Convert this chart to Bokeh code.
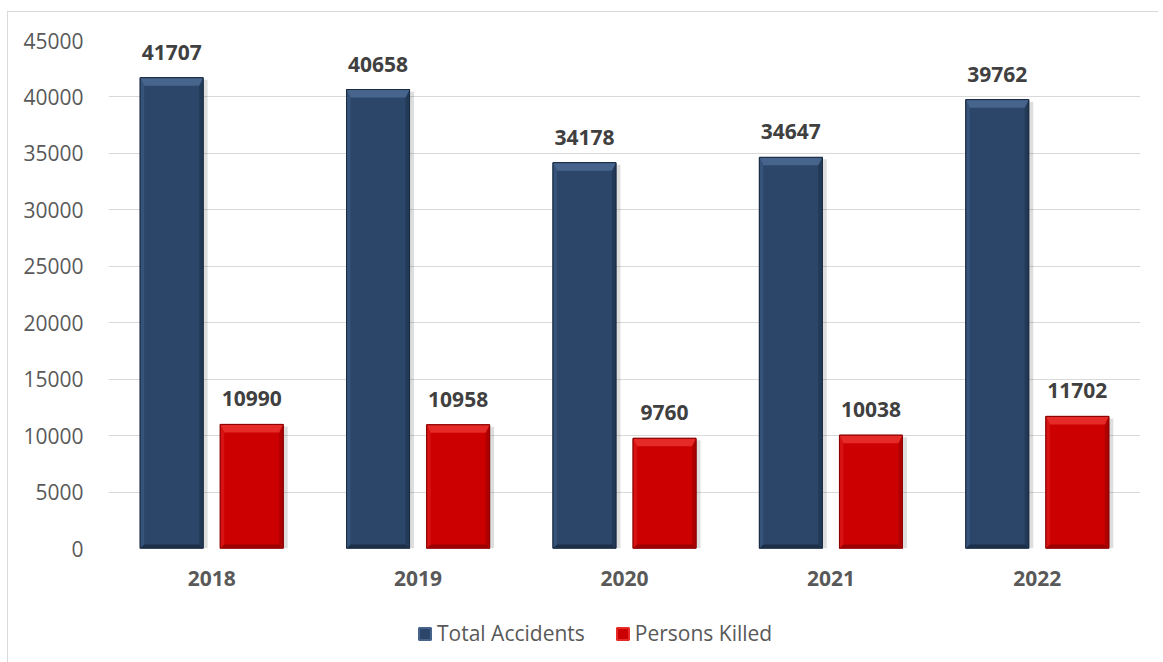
from bokeh.plotting import figure
from bokeh.layouts import column
from bokeh.models import (ColumnDataSource, Range1d, FixedTicker, LabelSet,
                          Legend, LegendItem, SingleIntervalTicker)
from bokeh.core.properties import value
from bokeh.embed import file_html
from bokeh.resources import INLINE

# ---- data ----
years = ["2018", "2019", "2020", "2021", "2022"]
total_accidents = [41707, 40658, 34178, 34647, 39762]
persons_killed = [10990, 10958, 9760, 10038, 11702]
series_names = ["Total Accidents", "Persons Killed"]

# ---- layout / style ----
W, H = 1150, 600
LEG_H = 50
ML, MR, MT, MB = 100, 18, 28, 64
frame_w = W - ML - MR
frame_h = H - MT - MB
YMAX = 45000
px_x = 5.0 / frame_w          # x-units per pixel
px_y = YMAX / frame_h         # y-units per pixel
OFFSET = 0.194
BAR_W = 0.305
FONT = value("Open Sans")
FS = "21px"

styles = {
    series_names[0]: dict(main="#2c4669", top="#46648c", left="#36547a",
                          right="#233a57", bottom="#1c2f48", line="#1a2b42"),
    series_names[1]: dict(main="#cc0000", top="#e52a28", left="#d61212",
                          right="#ae0000", bottom="#9c0000", line="#8a0000"),
}

p = figure(width=W, height=H, output_backend="svg", toolbar_location=None,
           x_range=Range1d(-0.5, 4.5), y_range=Range1d(0, YMAX),
           min_border_left=ML, min_border_right=MR, min_border_top=MT,
           min_border_bottom=MB)
p.outline_line_color = None
p.background_fill_color = "white"
p.border_fill_color = "white"

xs_idx = list(range(len(years)))
for si, (name, vals) in enumerate(zip(series_names, [total_accidents, persons_killed])):
    st = styles[name]
    off = -OFFSET if si == 0 else OFFSET
    cx = [i + off for i in xs_idx]
    # soft shadow
    p.vbar(x=[c + 3 * px_x for c in cx], top=[v - 2 * px_y for v in vals], bottom=0,
           width=BAR_W + 3 * px_x, fill_color="#000000", fill_alpha=0.13, line_color=None)
    src = ColumnDataSource(dict(x=cx, top=vals))
    p.vbar(x="x", top="top", bottom=0, width=BAR_W, source=src,
           fill_color=st["main"], line_color=st["line"], line_width=1)
    # bevel patches
    hw = BAR_W / 2
    sx, st_, sb = 4 * px_x, 8 * px_y, 4 * px_y
    pxs = {"top": [], "left": [], "right": [], "bottom": []}
    pys = {"top": [], "left": [], "right": [], "bottom": []}
    for c, v in zip(cx, vals):
        oL, oR, oT, oB = c - hw, c + hw, v, 0
        iL, iR, iT, iB = oL + sx, oR - sx, v - st_, sb
        pxs["top"].append([oL, oR, iR, iL]); pys["top"].append([oT, oT, iT, iT])
        pxs["bottom"].append([oL, oR, iR, iL]); pys["bottom"].append([oB, oB, iB, iB])
        pxs["left"].append([oL, iL, iL, oL]); pys["left"].append([oB, iB, iT, oT])
        pxs["right"].append([oR, iR, iR, oR]); pys["right"].append([oB, iB, iT, oT])
    for k in ["left", "right", "bottom", "top"]:
        p.patches(xs=pxs[k], ys=pys[k], fill_color=st[k], line_color=None)
    # outline on top
    p.vbar(x="x", top="top", bottom=0, width=BAR_W, source=src,
           fill_color=None, line_color=st["line"], line_width=1)
    # value labels
    lsrc = ColumnDataSource(dict(x=cx, y=vals, t=[str(v) for v in vals]))
    p.add_layout(LabelSet(x="x", y="y", text="t", source=lsrc, y_offset=18,
                          text_align="center", text_baseline="bottom",
                          text_font=FONT, text_font_style="bold",
                          text_font_size=FS, text_color="#404040"))

# axes
p.xaxis.ticker = FixedTicker(ticks=xs_idx)
p.xaxis.major_label_overrides = {i: y for i, y in enumerate(years)}
p.xaxis.axis_line_color = None
p.xaxis.major_tick_line_color = None
p.xaxis.minor_tick_line_color = None
p.xaxis.major_label_standoff = 16
p.xaxis.major_label_text_font = "Open Sans"
p.xaxis.major_label_text_font_style = "bold"
p.xaxis.major_label_text_font_size = FS
p.xaxis.major_label_text_color = "#595959"

p.yaxis.ticker = SingleIntervalTicker(interval=5000)
p.yaxis.axis_line_color = None
p.yaxis.major_tick_line_color = None
p.yaxis.minor_tick_line_color = None
p.yaxis.major_label_standoff = 19
p.yaxis.major_label_text_font = "Open Sans"
p.yaxis.major_label_text_font_size = FS
p.yaxis.major_label_text_color = "#595959"

p.xgrid.grid_line_color = None
p.ygrid.ticker = SingleIntervalTicker(interval=5000)
p.ygrid.grid_line_color = "#d9d9d9"
p.ygrid.grid_line_width = 1

# ---- legend strip (separate figure so that it is not clipped) ----
lg = figure(width=W, height=LEG_H, output_backend="svg", toolbar_location=None,
            x_range=Range1d(0, 1), y_range=Range1d(0, 1),
            x_axis_location=None, y_axis_location=None, min_border=0)
lg.outline_line_color = None
lg.xgrid.grid_line_color = None
lg.ygrid.grid_line_color = None
items = []
for name in series_names:
    st = styles[name]
    # no drawable data: only the legend swatch is shown
    hidden = ColumnDataSource(dict(x=[float("nan")], top=[float("nan")]))
    r = lg.vbar(x="x", top="top", width=0.1, source=hidden,
                fill_color=st["main"], line_color=st["top"], line_width=2)
    items.append(LegendItem(label=name, renderers=[r]))
legend = Legend(items=items, orientation="horizontal",
                location=(309, 15), padding=0, margin=0, spacing=30,
                label_standoff=5, glyph_width=15, glyph_height=15,
                border_line_color=None, background_fill_alpha=0,
                label_text_font="Open Sans", label_text_font_size=FS,
                label_text_color="#595959")
lg.add_layout(legend, "center")

layout = column(p, lg, spacing=0)
layout.styles = {"margin-left": "7px", "margin-top": "11px",
                 "border-left": "1px solid #d9d9d9", "border-top": "1px solid #d9d9d9"}

open("out.html", "w").write(file_html(layout, INLINE))
